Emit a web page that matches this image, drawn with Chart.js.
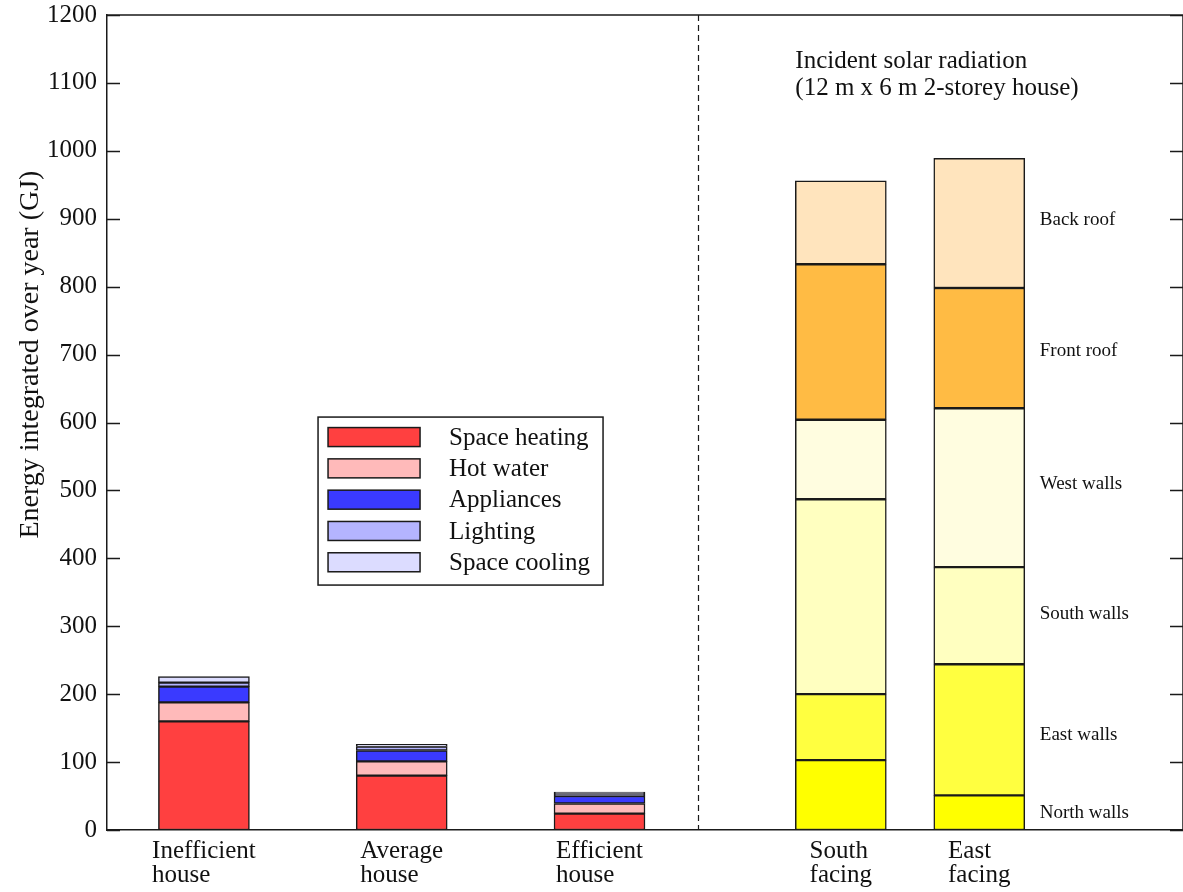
<!DOCTYPE html>
<html>
<head>
<meta charset="utf-8">
<script src="https://cdn.jsdelivr.net/npm/chart.js@4.4.1/dist/chart.umd.min.js"></script>
<style>
  html, body { margin: 0; padding: 0; background: #fff; }
  #wrap { width: 1183px; height: 892px; }
</style>
</head>
<body>
<div id="wrap"><canvas id="energyChart" width="1183" height="892"></canvas></div>
<script>
// category labels and where they sit on the (linear) x axis
const houseLabels = [['Inefficient', 'house'], ['Average', 'house'], ['Efficient', 'house']];
const houseX = [1, 2, 3];
const facingLabels = [['South', 'facing'], ['East', 'facing']];
const facingX = [4.22, 4.92];
const dividerX = 3.5;

// household energy use, GJ per year
const spaceHeating = [160, 80, 24];
const hotWater = [28, 21, 15];
const appliances = [23, 16, 11];
const lighting = [6, 6, 3];
const spaceCooling = [9, 3, 3];

// incident solar radiation, GJ per year
const northWalls = [103, 51];
const eastWalls = [97, 193];
const southWalls = [287, 143];
const westWalls = [117, 234];
const frontRoof = [229, 177];
const backRoof = [123, 191];

const yTicks = [0, 100, 200, 300, 400, 500, 600, 700, 800, 900, 1000, 1100, 1200];
const surfaceNames = ['Back roof', 'Front roof', 'West walls', 'South walls', 'East walls', 'North walls'];
const surfaceNameY = [898, 705, 509, 318, 140, 25];
const yTitle = 'Energy integrated over year (GJ)';
const noteLines = ['Incident solar radiation', '(12 m x 6 m 2-storey house)'];

const SERIF = "'Liberation Serif', 'DejaVu Serif', serif";
const BAR_W = 91;
const INK = '#1a1a1a';

function series(label, xs, values, color) {
    return {
        label: label,
        data: values.map((v, i) => ({ x: xs[i], y: v })),
        backgroundColor: color,
        borderColor: INK,
        borderWidth: 1.5,
        borderSkipped: false,
        barThickness: BAR_W,
        stack: 'all'
    };
}

const datasets = [
    series('Space heating', houseX, spaceHeating, '#ff4040'),
    series('Hot water', houseX, hotWater, '#ffbaba'),
    series('Appliances', houseX, appliances, '#3a3aff'),
    series('Lighting', houseX, lighting, '#b4b4ff'),
    series('Space cooling', houseX, spaceCooling, '#dcdcff'),
    series('North walls', facingX, northWalls, '#ffff00'),
    series('East walls', facingX, eastWalls, '#ffff40'),
    series('South walls', facingX, southWalls, '#ffffc0'),
    series('West walls', facingX, westWalls, '#fffde0'),
    series('Front roof', facingX, frontRoof, '#ffbb44'),
    series('Back roof', facingX, backRoof, '#ffe4bd')
];

// everything xmgrace-style that Chart.js doesn't draw on its own
const decorations = {
    id: 'decorations',
    afterDraw(chart) {
        const ctx = chart.ctx;
        const a = chart.chartArea;
        const xs = chart.scales.x;
        const ys = chart.scales.y;
        ctx.save();

        // frame top + right, inward ticks
        ctx.strokeStyle = INK;
        ctx.lineWidth = 1.5;
        ctx.beginPath();
        ctx.moveTo(a.left, a.top);
        ctx.lineTo(a.right, a.top);
        ctx.lineTo(a.right, a.bottom);
        yTicks.forEach(v => {
            const py = Math.round(ys.getPixelForValue(v)) + 0.5;
            ctx.moveTo(a.left, py);
            ctx.lineTo(a.left + 13, py);
            ctx.moveTo(a.right - 13, py);
            ctx.lineTo(a.right, py);
        });
        ctx.stroke();

        // dashed divider
        const dx = Math.round(xs.getPixelForValue(dividerX)) + 0.5;
        ctx.setLineDash([6, 4]);
        ctx.lineWidth = 1.2;
        ctx.beginPath();
        ctx.moveTo(dx, a.top);
        ctx.lineTo(dx, a.bottom);
        ctx.stroke();
        ctx.setLineDash([]);

        ctx.fillStyle = '#111';
        ctx.textBaseline = 'alphabetic';
        ctx.textAlign = 'left';

        // category labels under the axis, left aligned block
        ctx.font = '25px ' + SERIF;
        const cats = houseLabels.map((l, i) => [l, houseX[i]])
            .concat(facingLabels.map((l, i) => [l, facingX[i]]));
        cats.forEach(([lines, xv]) => {
            const w = Math.max(...lines.map(t => ctx.measureText(t).width));
            const left = xs.getPixelForValue(xv) - w / 2;
            lines.forEach((t, j) => ctx.fillText(t, left, a.bottom + 28 + j * 24));
        });

        // note above the solar bars
        const noteX = xs.getPixelForValue(facingX[0]) - BAR_W / 2;
        noteLines.forEach((t, j) => ctx.fillText(t, noteX, a.top + 53 + j * 27));

        // surface names beside the east-facing bar
        ctx.font = '19px ' + SERIF;
        ctx.textBaseline = 'middle';
        const nameX = xs.getPixelForValue(facingX[1]) + BAR_W / 2 + 15;
        surfaceNames.forEach((t, j) => ctx.fillText(t, nameX, ys.getPixelForValue(surfaceNameY[j])));

        // y title
        ctx.save();
        ctx.font = '28px ' + SERIF;
        ctx.textAlign = 'center';
        ctx.translate(31, ys.getPixelForValue(700));
        ctx.rotate(-Math.PI / 2);
        ctx.fillText(yTitle, 0, 0);
        ctx.restore();

        // boxed legend for the household series
        const bx = xs.getPixelForValue(1.577);
        const by = ys.getPixelForValue(608);
        ctx.fillStyle = '#fff';
        ctx.fillRect(bx, by, 285, 168);
        ctx.strokeStyle = INK;
        ctx.lineWidth = 1.5;
        ctx.strokeRect(bx, by, 285, 168);
        ctx.font = '25px ' + SERIF;
        chart.data.datasets.slice(0, 5).forEach((ds, j) => {
            const cy = by + 20 + j * 31.3;
            ctx.fillStyle = ds.backgroundColor;
            ctx.fillRect(bx + 10, cy - 9.5, 92, 19);
            ctx.strokeRect(bx + 10, cy - 9.5, 92, 19);
            ctx.fillStyle = '#111';
            ctx.fillText(ds.label, bx + 131, cy + 1);
        });

        ctx.restore();
    }
};

new Chart(document.getElementById('energyChart'), {
    type: 'bar',
    data: { datasets: datasets },
    options: {
        responsive: false,
        animation: false,
        layout: { padding: { top: 15, right: 0, left: 0, bottom: 0 } },
        plugins: {
            legend: { display: false },
            tooltip: { enabled: false }
        },
        scales: {
            x: {
                type: 'linear',
                min: 0.51,
                max: 5.95,
                offset: false,
                grid: { display: false, drawTicks: false },
                border: { display: true, color: INK, width: 1.5 },
                ticks: { display: false },
                afterFit: s => { s.height = 62; s.paddingLeft = 0; s.paddingRight = 0; }
            },
            y: {
                min: 0,
                max: 1200,
                stacked: true,
                afterBuildTicks: s => { s.ticks = yTicks.map(v => ({ value: v })); },
                grid: { display: false, drawTicks: false },
                border: { display: true, color: INK, width: 1.5 },
                ticks: {
                    color: '#111',
                    padding: 10,
                    font: { family: SERIF, size: 25 },
                    callback: v => String(v)
                },
                afterFit: s => { s.width = 107; s.paddingTop = 0; s.paddingBottom = 0; }
            }
        }
    },
    plugins: [decorations]
});
</script>
</body>
</html>
